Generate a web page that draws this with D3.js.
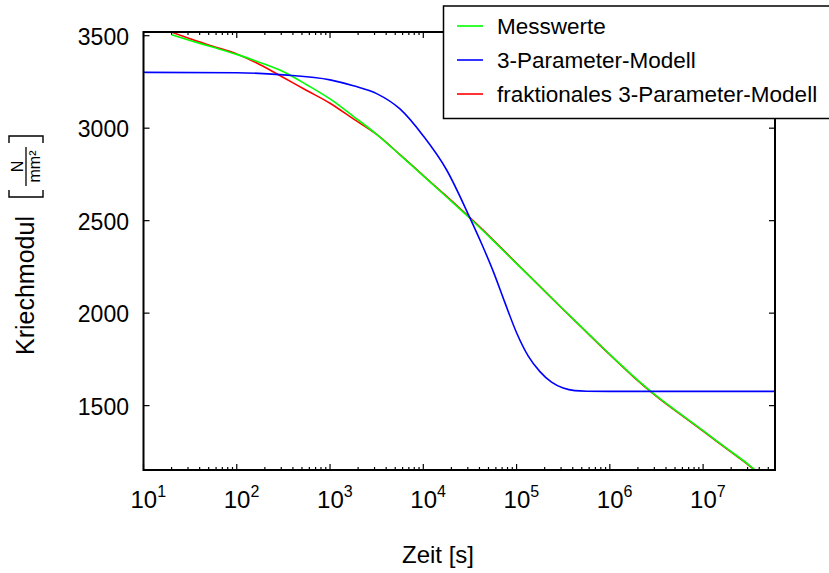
<!DOCTYPE html>
<html lang="de">
<head>
    <meta charset="utf-8" />
    <title>Kriechmodul</title>
    <script src="https://d3js.org/d3.v7.min.js"></script>
    <style>
        body {
            margin: 0;
            padding: 0;
            background: white;
        }
        svg text {
            font-family: "Liberation Sans", Arial, sans-serif;
            fill: black;
        }
    </style>
</head>
<body>
<svg id="chart"></svg>
<script>
    var w = 829;
    var h = 573;

    var messTime = [20, 31.6, 56.2, 100, 178, 316, 562, 1000, 1780, 3160, 5620, 1e4, 1.78e4, 3.16e4, 5.62e4,
                    1e5, 1.78e5, 3.16e5, 5.62e5, 1e6, 1.78e6, 3.16e6, 5.62e6, 1e7, 1.78e7, 3.16e7, 3.6e7];
    var messValues = [3505, 3474, 3437, 3399, 3355, 3305, 3235, 3158, 3064, 2967, 2856, 2742, 2628, 2513, 2392,
                      2268, 2144, 2021, 1899, 1777, 1660, 1553, 1458, 1365, 1270, 1176, 1152];

    // 3-Parameter-Modell
    var modelTime = [10, 100, 316, 1000, 1780, 3160, 5620, 1e4, 1.78e4, 3.16e4, 4.22e4, 5.62e4, 7.5e4,
                     1e5, 1.33e5, 1.78e5, 2.37e5, 3.16e5, 4.22e5, 5.62e5, 1e6, 1e7, 5.9e7];
    var modelValues = [3302, 3300, 3288, 3261, 3229, 3187, 3104, 2958, 2774, 2515, 2375, 2226, 2057,
                       1894, 1769, 1684, 1627, 1595, 1581, 1578, 1577, 1577, 1577];

    // fraktionales 3-Parameter-Modell
    var fracTime = messTime;
    var fracValues = [3520, 3483, 3442, 3401, 3343, 3274, 3204, 3135, 3050, 2966, 2857, 2744, 2631, 2516, 2395,
                      2270, 2145, 2020, 1897, 1775, 1657, 1550, 1455, 1362, 1267, 1173, 1150];

    var yTicks = [1500, 2000, 2500, 3000, 3500];
    var xTickExp = [1, 2, 3, 4, 5, 6, 7];
    var legendNames = ["Messwerte", "3-Parameter-Modell", "fraktionales 3-Parameter-Modell"];
    var legendColors = ["#00ff00", "#0000ff", "#ff0000"];

    // plot area
    var plotLeft = 143.5, plotRight = 775, plotTop = 32, plotBottom = 470;

    var svg = d3.select("#chart")
                .attr("width", w)
                .attr("height", h);

    var xScale = d3.scaleLog()
                .domain([10, 5.9e7])
                .range([plotLeft, plotRight]);

    var yScale = d3.scaleLinear()
                .domain([1152, 3520])
                .range([plotBottom, plotTop]);

    svg.append("clipPath")
        .attr("id", "plotClip")
        .append("rect")
        .attr("x", plotLeft)
        .attr("y", plotTop)
        .attr("width", plotRight - plotLeft)
        .attr("height", plotBottom - plotTop);

    // ticks, inside on all four sides (gnuplot style)
    var ticks = svg.append("g").attr("stroke", "black").attr("stroke-width", 1.2);
    var xTickVals = [];
    for (var e = 1; e <= 7; e++) {
        for (var m = 1; m <= 9; m++) {
            var v = m * Math.pow(10, e);
            if (v <= 5.9e7) xTickVals.push({v: v, major: m === 1});
        }
    }
    xTickVals.forEach(function(t) {
        var x = xScale(t.v);
        var len = t.major ? 6 : 3;
        ticks.append("line").attr("x1", x).attr("x2", x).attr("y1", plotBottom).attr("y2", plotBottom - len);
        ticks.append("line").attr("x1", x).attr("x2", x).attr("y1", plotTop).attr("y2", plotTop + len);
    });
    yTicks.forEach(function(v) {
        var y = yScale(v);
        ticks.append("line").attr("x1", plotLeft).attr("x2", plotLeft + 6).attr("y1", y).attr("y2", y);
        ticks.append("line").attr("x1", plotRight).attr("x2", plotRight - 6).attr("y1", y).attr("y2", y);
    });

    // tick labels
    svg.selectAll(".ylab")
        .data(yTicks)
        .enter().append("text")
        .attr("class", "ylab")
        .attr("x", 129)
        .attr("y", function(d) { return yScale(d) + 9; })
        .attr("text-anchor", "end")
        .attr("font-size", "23px")
        .text(function(d) { return d; });

    var xl = svg.selectAll(".xlab")
        .data(xTickExp)
        .enter().append("text")
        .attr("class", "xlab")
        .attr("x", function(d) { return xScale(Math.pow(10, d)) - 13; })
        .attr("y", 508)
        .attr("font-size", "24px");
    xl.append("tspan").text("10");
    xl.append("tspan")
        .attr("dy", -11)
        .attr("font-size", "16px")
        .text(function(d) { return d; });

    // curves
    var line = d3.line()
        .x(function(d) { return xScale(d[0]); })
        .y(function(d) { return yScale(d[1]); })
        .curve(d3.curveMonotoneX);

    var curves = svg.append("g").attr("clip-path", "url(#plotClip)");
    curves.append("path")
        .attr("d", line(d3.zip(fracTime, fracValues)))
        .attr("fill", "none")
        .attr("stroke", legendColors[2])
        .attr("stroke-width", 1.6);
    curves.append("path")
        .attr("d", line(d3.zip(messTime, messValues)))
        .attr("fill", "none")
        .attr("stroke", legendColors[0])
        .attr("stroke-width", 1.6);
    curves.append("path")
        .attr("d", line(d3.zip(modelTime, modelValues)))
        .attr("fill", "none")
        .attr("stroke", legendColors[1])
        .attr("stroke-width", 1.6);

    // frame
    svg.append("rect")
        .attr("x", plotLeft)
        .attr("y", plotTop)
        .attr("width", plotRight - plotLeft)
        .attr("height", plotBottom - plotTop)
        .attr("fill", "none")
        .attr("stroke", "black")
        .attr("stroke-width", 2);

    // axis titles
    svg.append("text")
        .attr("x", 438)
        .attr("y", 563)
        .attr("text-anchor", "middle")
        .attr("font-size", "24px")
        .text("Zeit [s]");

    var yt = svg.append("g").attr("transform", "rotate(-90)");
    yt.append("text")
        .attr("x", -355)
        .attr("y", 34)
        .attr("font-size", "25px")
        .text("Kriechmodul");
    // unit [N/mm²] as a fraction in brackets
    yt.append("path")
        .attr("d", "M-190,9 L-197,9 L-197,43 L-190,43")
        .attr("fill", "none").attr("stroke", "black").attr("stroke-width", 1.4);
    yt.append("path")
        .attr("d", "M-143,9 L-136,9 L-136,43 L-143,43")
        .attr("fill", "none").attr("stroke", "black").attr("stroke-width", 1.4);
    yt.append("line")
        .attr("x1", -186).attr("x2", -147)
        .attr("y1", 26).attr("y2", 26)
        .attr("stroke", "black").attr("stroke-width", 1.3);
    yt.append("text")
        .attr("x", -166.5).attr("y", 23)
        .attr("text-anchor", "middle")
        .attr("font-size", "16px")
        .text("N");
    yt.append("text")
        .attr("x", -166.5).attr("y", 40)
        .attr("text-anchor", "middle")
        .attr("font-size", "16px")
        .text("mm²");

    // legend box, runs off the right edge
    var legend = svg.append("g");
    legend.append("rect")
        .attr("x", 443.5)
        .attr("y", 6)
        .attr("width", 420)
        .attr("height", 112.5)
        .attr("fill", "white")
        .attr("stroke", "black")
        .attr("stroke-width", 1.5);
    legendNames.forEach(function(name, i) {
        var y = 26 + i * 34;
        legend.append("line")
            .attr("x1", 457).attr("x2", 483)
            .attr("y1", y).attr("y2", y)
            .attr("stroke", legendColors[i])
            .attr("stroke-width", 1.6);
        legend.append("text")
            .attr("x", 497)
            .attr("y", y + 8)
            .attr("font-size", "22.5px")
            .text(name);
    });
</script>
</body>
</html>
